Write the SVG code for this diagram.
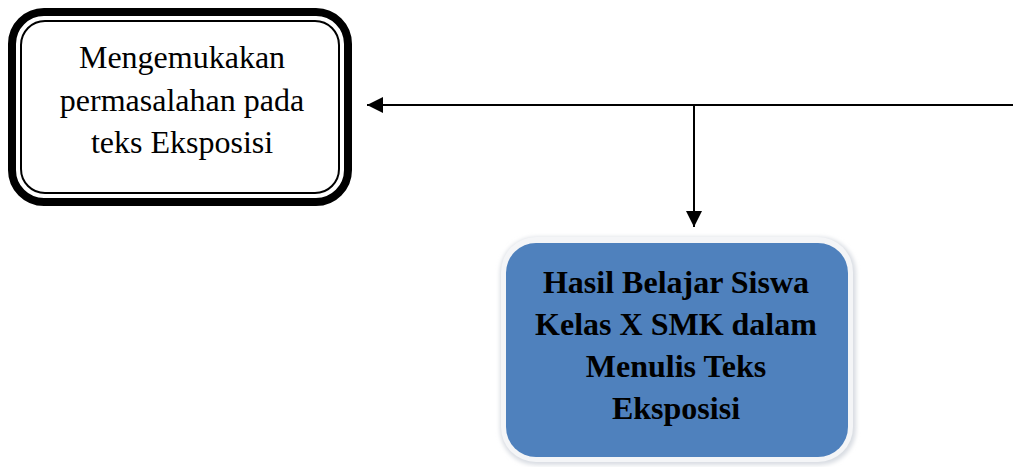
<svg xmlns="http://www.w3.org/2000/svg" width="1013" height="467" viewBox="0 0 1013 467">
<style>
.t{font-family:"Liberation Serif","Times New Roman",serif;font-size:32px;text-anchor:middle;fill:#000}
.b{font-weight:bold}
.ln{stroke:#000;stroke-width:2;fill:none}
</style>
<defs>
<marker id="ah" markerWidth="17" markerHeight="16" refX="16" refY="8" orient="auto" markerUnits="userSpaceOnUse">
<path d="M0,0 L16,8 L0,16 Z" fill="#000"/>
</marker>
<filter id="sh" x="-10%" y="-10%" width="120%" height="120%">
<feGaussianBlur stdDeviation="2"/>
</filter>
</defs>
<g id="connectors">
<line class="ln" x1="1013" y1="105" x2="367" y2="105" marker-end="url(#ah)"/>
<line class="ln" x1="694" y1="105" x2="694" y2="227" marker-end="url(#ah)"/>
</g>
<g id="node-mengemukakan">
<rect x="12" y="12" width="336" height="190" rx="32" fill="#fff" stroke="#000" stroke-width="8"/>
<rect x="21" y="21" width="318" height="172" rx="24" fill="none" stroke="#000" stroke-width="2"/>
<text class="t" x="182" y="68">Mengemukakan</text>
<text class="t" x="182" y="111">permasalahan pada</text>
<text class="t" x="182" y="153">teks Eksposisi</text>
</g>
<g id="node-hasil">
<rect x="500" y="237" width="356" height="228" rx="36" fill="#d8dce2" filter="url(#sh)"/>
<rect x="501" y="237" width="352" height="225" rx="35" fill="#f4f5f7"/>
<rect x="506" y="243" width="342" height="214" rx="30" fill="#4f81bd"/>
<text class="t b" x="676" y="293">Hasil Belajar Siswa</text>
<text class="t b" x="676" y="335">Kelas X SMK dalam</text>
<text class="t b" x="676" y="377">Menulis Teks</text>
<text class="t b" x="676" y="419">Eksposisi</text>
</g>
</svg>
